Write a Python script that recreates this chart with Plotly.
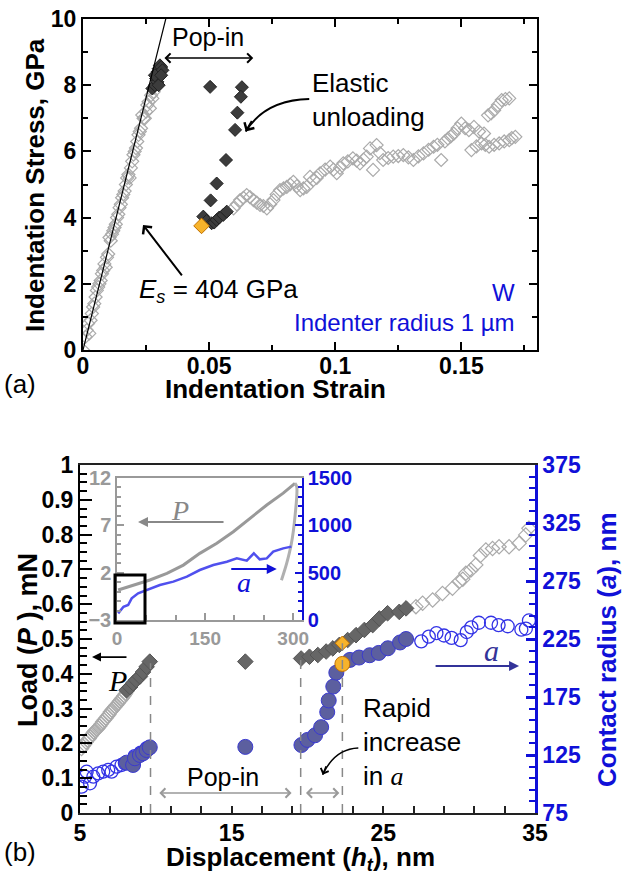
import plotly.graph_objects as go

# ---------------- Panel (a) data ----------------
a_load_strain = [0.000, 0.001, 0.0015, 0.002, 0.0025, 0.003, 0.0035, 0.004, 0.0045, 0.005, 0.0055,
                 0.006, 0.0065, 0.007, 0.0075, 0.008, 0.0085, 0.009, 0.0095, 0.010, 0.0105, 0.011,
                 0.0115, 0.012, 0.0125, 0.013, 0.0135, 0.014, 0.0145, 0.015, 0.0155, 0.016, 0.0165,
                 0.017, 0.0175, 0.018, 0.0185, 0.019, 0.0195, 0.020, 0.0205, 0.021, 0.0215, 0.022,
                 0.0225, 0.023, 0.0235, 0.024, 0.0245, 0.025, 0.0255, 0.026, 0.0265, 0.027, 0.0275, 0.028]
a_load_stress = [0.0, 0.4, 0.6, 0.8, 0.5, 0.9, 1.1, 1.3, 1.4, 1.6, 1.8,
                 1.9, 2.0, 2.1, 2.3, 2.4, 2.6, 2.5, 2.8, 2.9, 3.4, 3.3,
                 3.5, 3.6, 3.7, 3.8, 4.0, 4.1, 4.3, 4.4, 4.6, 4.7, 4.8,
                 5.0, 5.2, 5.3, 5.2, 5.5, 5.7, 5.9, 6.0, 6.1, 6.3, 6.5,
                 6.6, 6.7, 7.1, 7.0, 7.0, 7.2, 7.4, 7.5, 7.3, 7.7, 7.6, 7.8]

a_top_strain = [0.0275, 0.0285, 0.029, 0.0295, 0.030, 0.0305, 0.031, 0.0315, 0.0295, 0.0285, 0.0300, 0.0310]
a_top_stress = [7.9, 8.0, 8.2, 8.4, 8.5, 8.6, 8.55, 8.45, 8.1, 8.3, 8.0, 8.3]

a_unload_strain = [0.0504, 0.0630, 0.0626, 0.0612, 0.0603, 0.0567, 0.0530, 0.0506,
                   0.0477, 0.0490, 0.0510, 0.0520, 0.0530, 0.0540, 0.0556, 0.0570]
a_unload_stress = [7.95, 7.94, 7.65, 7.17, 6.65, 5.74, 5.03, 4.52,
                   4.03, 3.90, 3.83, 3.85, 3.93, 4.00, 4.08, 4.18]

a_orange_strain = [0.047]
a_orange_stress = [3.75]

a_plastic_strain = [0.0597, 0.0623, 0.0649, 0.0676, 0.0702, 0.0729, 0.0755, 0.0781, 0.0808,
                    0.0834, 0.0861, 0.0887, 0.0900, 0.0914, 0.0940, 0.0980, 0.1006, 0.1032,
                    0.1070, 0.1098, 0.1125, 0.1138, 0.1150, 0.1164, 0.1190, 0.1230, 0.1270,
                    0.1310, 0.1350, 0.1390, 0.1420, 0.1447, 0.1470, 0.1500, 0.1530, 0.1550,
                    0.1590, 0.1606, 0.1630, 0.1660, 0.1690,
                    0.1540, 0.1580, 0.1610, 0.1650, 0.1690, 0.1714,
                    0.0610, 0.0636, 0.0662, 0.0689, 0.0715, 0.0742, 0.0768, 0.0795, 0.0821,
                    0.0848, 0.0874, 0.0927, 0.0960, 0.0993, 0.1019, 0.1050, 0.1085, 0.1112,
                    0.1177, 0.1210, 0.1250, 0.1290, 0.1330, 0.1370, 0.1405, 0.1435, 0.1458,
                    0.1485, 0.1515, 0.1570, 0.1618, 0.1645, 0.1675, 0.1560, 0.1595, 0.1630,
                    0.1670, 0.1700]
a_plastic_stress = [4.28, 4.53, 4.68, 4.53, 4.38, 4.28, 4.53, 4.83, 4.93,
                    5.08, 4.83, 4.93, 5.23, 5.14, 5.34, 5.54, 5.34, 5.64,
                    5.79, 5.64, 5.84, 6.09, 5.44, 6.19, 5.74, 5.84, 5.89,
                    5.74, 5.94, 6.14, 5.74, 6.39, 6.54, 6.84, 6.64, 6.74,
                    6.54, 7.09, 7.24, 7.55, 7.60,
                    6.04, 6.24, 6.14, 6.24, 6.34, 6.44,
                    4.40, 4.60, 4.62, 4.45, 4.35, 4.40, 4.70, 4.88, 5.00,
                    4.95, 4.88, 5.20, 5.45, 5.45, 5.50, 5.70, 5.72, 5.75,
                    5.95, 5.80, 5.86, 5.82, 5.85, 6.05, 6.20, 6.30, 6.45,
                    6.70, 6.70, 6.60, 7.15, 7.40, 7.58, 6.15, 6.20, 6.20,
                    6.30, 6.40]

# fitted elastic line endpoints (strain, stress)
a_fit_strain = [0.0, 0.0337]
a_fit_stress = [0.0, 10.27]

# ---------------- Panel (b) data ----------------
b_Pload_h = [5.1, 5.2, 5.3, 5.4, 5.5, 5.6, 5.7, 5.8, 5.9, 6.0, 6.1, 6.2, 6.3, 6.4, 6.5, 6.6, 6.7, 6.8,
             6.9, 7.0, 7.1, 7.2, 7.3, 7.4, 7.5, 7.6, 7.7, 7.8, 7.9, 8.0, 8.1]
b_Pload_P = [0.185, 0.192, 0.197, 0.204, 0.210, 0.214, 0.220, 0.226, 0.232, 0.236, 0.240, 0.245,
             0.250, 0.256, 0.262, 0.267, 0.272, 0.278, 0.283, 0.290, 0.295, 0.300, 0.305, 0.310,
             0.315, 0.321, 0.326, 0.331, 0.337, 0.343, 0.350]

b_Pdark_h = [8.07, 8.3, 8.5, 8.7, 8.95, 9.15, 9.39, 9.6, 15.9,
             19.58, 20.13, 20.68, 21.23, 21.67, 22.10, 22.65, 23.20, 23.75, 24.30,
             24.74, 25.28, 26.05, 26.50]
b_Pdark_P = [0.353, 0.362, 0.373, 0.382, 0.392, 0.405, 0.420, 0.435, 0.435,
             0.444, 0.449, 0.454, 0.464, 0.473, 0.483, 0.497, 0.511, 0.526, 0.540,
             0.559, 0.574, 0.578, 0.588]

b_Pafter_h = [27.15, 27.59, 28.25, 28.90, 29.56, 30.00, 30.24, 30.44, 30.77, 31.10,
              31.40, 31.76, 32.20, 32.63, 33.29, 33.95, 34.39, 34.60]
b_Pafter_P = [0.593, 0.603, 0.612, 0.631, 0.646, 0.665, 0.672, 0.689, 0.698, 0.713,
              0.740, 0.756, 0.760, 0.765, 0.765, 0.775, 0.799, 0.818]

b_Porange_h = [22.3]
b_Porange_P = [0.488]

b_aopen1_h = [5.11, 5.33, 5.44, 5.66, 5.88, 6.20, 6.53, 6.86, 7.08, 7.41, 7.74, 7.96, 8.6, 9.0, 9.4]
b_aopen1_a = [97.7, 106.3, 110.6, 100.6, 106.3, 109.2, 110.6, 112.1, 110.6, 114.9, 116.4, 117.8,
              124.0, 127.0, 131.0]

b_afill_h = [8.07, 8.50, 8.62, 8.95, 9.16, 9.39, 9.60, 15.9,
             19.60, 20.00, 20.50, 20.90, 21.30, 21.40, 21.70, 21.90,
             22.80, 23.40, 24.10, 24.70, 25.30, 26.10, 26.50]
b_afill_a = [118.4, 116.4, 122.2, 125.0, 126.5, 129.3, 131.6, 132.0,
             133.6, 138.0, 142.0, 149.0, 162.0, 172.0, 184.0, 196.0,
             207.0, 209.0, 211.0, 213.0, 217.0, 222.0, 225.0]

b_aopen2_h = [27.5, 28.0, 28.5, 29.0, 29.5, 30.1, 30.5, 30.8, 31.3, 32.1, 32.6, 33.2, 34.1, 34.4, 34.6]
b_aopen2_a = [223, 227, 230, 228, 226, 224, 231, 235, 239, 239, 237, 236, 233, 234, 241]

b_aorange_h = [22.3]
b_aorange_a = [203.5]

b_dash_h = [9.65, 19.55, 22.3]
b_dash_top = [0.43, 0.445, 0.488]

# ---------------- Inset data ----------------
ins_P_h = [2, 28, 56, 85, 113, 141, 170, 198, 226, 255, 283, 303]
ins_P_P = [0.17, 0.7, 1.23, 1.93, 2.8, 4.04, 5.1, 6.33, 7.74, 9.15, 10.4, 11.44]
ins_Pu_h = [303, 306, 303, 297, 289, 280]
ins_Pu_P = [11.44, 11.1, 7.9, 5.1, 3.0, 1.2]
ins_a_h = [2, 11, 19, 25, 36, 51, 73, 96, 119, 141, 164, 187, 204, 221, 233, 243, 255, 266, 283, 297]
ins_a_a = [70, 140, 158, 229, 282, 317, 370, 405, 458, 528, 581, 616, 651, 627, 704, 641, 651, 722, 757, 775]

FONT = "Liberation Sans, Arial, sans-serif"
SERIF = "Liberation Serif, Times New Roman, serif"
BLUE = "#1010d8"
NAVY = "#333399"
GREY = "#999999"

fig = go.Figure()

# Panel a traces
fig.add_trace(go.Scatter(x=a_load_strain, y=a_load_stress, mode="markers",
                         marker=dict(symbol="diamond-open", size=10, color="#aaaaaa", line=dict(width=1.2)),
                         xaxis="x", yaxis="y"))
fig.add_trace(go.Scatter(x=a_plastic_strain, y=a_plastic_stress, mode="markers",
                         marker=dict(symbol="diamond-open", size=10, color="#aaaaaa", line=dict(width=1.2)),
                         xaxis="x", yaxis="y"))
fig.add_trace(go.Scatter(x=a_top_strain, y=a_top_stress, mode="markers",
                         marker=dict(symbol="diamond", size=10, color="#3c3c3c", line=dict(color="#222", width=1)),
                         xaxis="x", yaxis="y"))
fig.add_trace(go.Scatter(x=a_unload_strain, y=a_unload_stress, mode="markers",
                         marker=dict(symbol="diamond", size=10, color="#3c3c3c", line=dict(color="#222", width=1)),
                         xaxis="x", yaxis="y"))
fig.add_trace(go.Scatter(x=a_orange_strain, y=a_orange_stress, mode="markers",
                         marker=dict(symbol="diamond", size=12, color="#f7b32b", line=dict(color="#c07000", width=1)),
                         xaxis="x", yaxis="y"))
fig.add_trace(go.Scatter(x=a_fit_strain, y=a_fit_stress, mode="lines",
                         line=dict(color="black", width=1.2), xaxis="x", yaxis="y", cliponaxis=False))

# Panel b traces
fig.add_trace(go.Scatter(x=b_Pload_h, y=b_Pload_P, mode="markers",
                         marker=dict(symbol="diamond-open", size=11, color="#aaaaaa", line=dict(width=1.2)),
                         xaxis="x2", yaxis="y2"))
fig.add_trace(go.Scatter(x=b_Pafter_h, y=b_Pafter_P, mode="markers",
                         marker=dict(symbol="diamond-open", size=11, color="#aaaaaa", line=dict(width=1.2)),
                         xaxis="x2", yaxis="y2"))
fig.add_trace(go.Scatter(x=b_Pdark_h, y=b_Pdark_P, mode="markers",
                         marker=dict(symbol="diamond", size=12, color="#666666", line=dict(color="#555", width=1)),
                         xaxis="x2", yaxis="y2"))
fig.add_trace(go.Scatter(x=b_Porange_h, y=b_Porange_P, mode="markers",
                         marker=dict(symbol="diamond", size=11, color="#f7b32b", line=dict(color="#c07000", width=1)),
                         xaxis="x2", yaxis="y2"))
fig.add_trace(go.Scatter(x=b_aopen1_h, y=b_aopen1_a, mode="markers",
                         marker=dict(symbol="circle-open", size=13, color="#3333e6", line=dict(width=1.3)),
                         xaxis="x2", yaxis="y3"))
fig.add_trace(go.Scatter(x=b_aopen2_h, y=b_aopen2_a, mode="markers",
                         marker=dict(symbol="circle-open", size=13, color="#3333e6", line=dict(width=1.3)),
                         xaxis="x2", yaxis="y3"))
fig.add_trace(go.Scatter(x=b_afill_h, y=b_afill_a, mode="markers",
                         marker=dict(symbol="circle", size=15, color="#5c5f9f", line=dict(color="#3a3ad0", width=1)),
                         xaxis="x2", yaxis="y3"))
fig.add_trace(go.Scatter(x=b_aorange_h, y=b_aorange_a, mode="markers",
                         marker=dict(symbol="circle", size=15, color="#f7b32b", line=dict(color="#c07000", width=1)),
                         xaxis="x2", yaxis="y3"))

# Inset traces
fig.add_trace(go.Scatter(x=ins_P_h, y=ins_P_P, mode="lines", line=dict(color="#999999", width=3),
                         xaxis="x3", yaxis="y4"))
fig.add_trace(go.Scatter(x=ins_Pu_h, y=ins_Pu_P, mode="lines", line=dict(color="#b0b0b0", width=3, shape="spline"),
                         xaxis="x3", yaxis="y4"))
fig.add_trace(go.Scatter(x=ins_a_h, y=ins_a_a, mode="lines", line=dict(color="#5050ee", width=2.5),
                         xaxis="x3", yaxis="y5"))

tickA = dict(family=FONT, size=23, color="black", weight="bold")

def axstyle(color, ticklen, width=2):
    return dict(showline=True, linecolor=color, linewidth=width, ticks="inside", ticklen=ticklen,
                tickwidth=width, tickcolor=color, showgrid=False, zeroline=False, automargin=False)

shapes = []
for h, top in zip(b_dash_h, b_dash_top):
    shapes.append(dict(type="line", xref="x2", yref="y2", x0=h, x1=h, y0=0, y1=top,
                       line=dict(color="#888888", width=1.5, dash="dash")))
# inset zoom box (paper coords so it is not clipped)
shapes.append(dict(type="rect", xref="paper", yref="paper", x0=115/625, x1=145/625,
                   y0=1-623/875, y1=1-575/875, line=dict(color="black", width=3)))
# curved arrow: elastic unloading
shapes.append(dict(type="path", xref="x", yref="y",
                   path="M 0.0897 7.58 Q 0.0722 7.55 0.0645 6.6", line=dict(color="black", width=2)))
# curved arrow: rapid increase
shapes.append(dict(type="path", xref="x2", yref="y2",
                   path="M 23.35 0.187 Q 21.8 0.185 21.0 0.11", line=dict(color="black", width=1.5)))

ann = []
def text(x, y, t, xref="paper", yref="paper", size=26, color="black", xanchor="center",
         yanchor="middle", angle=0, family=FONT, align="center"):
    ann.append(dict(x=x, y=y, xref=xref, yref=yref, text=t, showarrow=False, xanchor=xanchor,
                    yanchor=yanchor, textangle=angle, align=align,
                    font=dict(family=family, size=size, color=color)))

def arrow(x, y, ax, ay, xref, yref, color="black", head=2, width=1.5, size=1.0, side="end",
          axref="pixel", ayref="pixel"):
    ann.append(dict(x=x, y=y, xref=xref, yref=yref, ax=ax, ay=ay, axref=axref, ayref=ayref,
                    text="", showarrow=True, arrowhead=head, arrowcolor=color, arrowwidth=width,
                    arrowsize=size, arrowside=side, startarrowhead=head, startarrowsize=size))

# axis titles
text(35/625, 1-185/875, "<b>Indentation Stress, GPa</b>", angle=-90, size=26)
text(275/625, 1-389/875, "<b>Indentation Strain</b>", size=26)
text(28/625, 1-640/875, "<b>Load (<i>P</i> ), mN</b>", angle=-90, size=27)
text(607/625, 1-650/875, "<b>Contact radius (<i>a</i>), nm</b>", angle=-90, size=26, color=BLUE)
text(300/625, 1-858/875, "<b>Displacement (<i>h<sub>t</sub></i>), nm</b>", size=26)
text(20/625, 1-384/875, "(a)", size=26)
text(20/625, 1-852/875, "(b)", size=26)

# panel a annotations
text(0.0496, 9.46, "Pop-in", xref="x", yref="y", size=25)
arrow(0.0675, 8.82, 0.0317, 8.82, "x", "y", head=4, width=1.5, size=1.2, side="end+start",
      axref="x", ayref="y")
text(0.0900, 7.55, "Elastic<br>unloading", xref="x", yref="y", size=26, xanchor="left", align="left")
arrow(0.0645, 6.6, 7, -12, "x", "y", head=4, width=2, size=1.1)
arrow(0.0238, 3.78, 40, 52, "x", "y", head=4, width=2, size=1.1)
text(0.0214, 1.81, "<i>E<sub>s</sub></i> = 404 GPa", xref="x", yref="y", size=26, xanchor="left")
text(517/625, 1-292/875, "W", size=24, color=BLUE, xanchor="right")
text(517/625, 1-322/875, "Indenter radius 1 µm", size=24, color=BLUE, xanchor="right")

# panel b annotations
arrow(5.79, 0.448, 36, 0, "x2", "y2", head=2, width=1.8, size=1.0)
text(7.5, 0.382, "<i>P</i>", xref="x2", yref="y2", size=30, family=SERIF)
arrow(33.95, 201.7, -85, 0, "x2", "y3", color=NAVY, head=2, width=2, size=1.0)
text(32.1, 215.5, "<i>a</i>", xref="x2", yref="y3", size=30, family=SERIF, color=NAVY)
text(14.4, 0.103, "Pop-in", xref="x2", yref="y2", size=25)
arrow(18.95, 0.0575, 10.13, 0.0575, "x2", "y2", color="#999999", head=4, width=1.5, size=1.2,
      side="end+start", axref="x2", ayref="y2")
arrow(22.1, 0.0575, 19.8, 0.0575, "x2", "y2", color="#999999", head=4, width=1.5, size=1.2,
      side="end+start", axref="x2", ayref="y2")
text(23.55, 0.204, "Rapid<br>increase<br>in <span style='font-family:Liberation Serif'><i>a</i></span>",
     xref="x2", yref="y2", size=26, xanchor="left", align="left")
arrow(21.0, 0.11, 4, -10, "x2", "y2", head=4, width=1.5, size=1.1)

# inset annotations
arrow(35.8, 7.35, 87, 0, "x3", "y4", color="#888888", head=2, width=2, size=1.0)
text(107, 8.6, "<i>P</i>", xref="x3", yref="y4", size=28, family=SERIF, color="#888888")
arrow(272, 539, -47, 0, "x3", "y5", color=BLUE, head=2, width=2, size=1.0)
text(216, 391, "<i>a</i>", xref="x3", yref="y5", size=28, family=SERIF, color=BLUE)

xa = axstyle("black", 8)
xa.update(domain=[83/625, 537/625], anchor="y", range=[0, 0.18], tick0=0, dtick=0.05,
          mirror="ticks", tickfont=tickA, ticklabelstandoff=-6,
          minor=dict(ticks="inside", dtick=0.025, ticklen=5, tickwidth=2, tickcolor="black"))
ya = axstyle("black", 8)
ya.update(domain=[1-350/875, 1-19/875], anchor="x", range=[0, 10], tick0=0, dtick=2,
          mirror="ticks", tickfont=tickA, minor=dict(ticks="inside", dtick=1, ticklen=5,
                                                     tickwidth=2, tickcolor="black"))

xb = axstyle("#222222", 7)
xb.update(domain=[80/625, 535/625], anchor="y2", range=[5, 35], tick0=5, dtick=10, mirror=True,
          tickfont=tickA, ticklabelstandoff=-2,
          minor=dict(ticks="inside", tick0=5, dtick=2, ticklen=7, tickwidth=2, tickcolor="#222222"))
yb = axstyle("black", 12)
yb.update(domain=[1-813/875, 1-465/875], anchor="x2", range=[0, 1], tick0=0, dtick=0.1,
          tickfont=tickA, minor=dict(ticks="inside", dtick=0.025, ticklen=7, tickwidth=2,
                                     tickcolor="black"))
yb3 = axstyle(BLUE, 9, width=2.5)
yb3.update(overlaying="y2", anchor="x2", side="right", range=[75, 375], tick0=75, dtick=50,
           tickfont=dict(family=FONT, size=23, color=BLUE, weight="bold"),
           minor=dict(ticks="inside", tick0=75, dtick=10, ticklen=6, tickwidth=2, tickcolor=BLUE))

xi = axstyle(GREY, 7, width=1.5)
xi.update(domain=[117/625, 302/625], anchor="y4", range=[0, 315], tickvals=[0, 150, 300],
          mirror=True, tickfont=dict(family=FONT, size=19, color=GREY, weight="bold"),
          minor=dict(ticks="inside", tick0=0, dtick=50, ticklen=5, tickwidth=1.5, tickcolor=GREY))
yi = axstyle(GREY, 7, width=1.5)
yi.update(domain=[1-620/875, 1-478/875], anchor="x3", range=[-3, 12], tick0=-3, dtick=5,
          tickfont=dict(family=FONT, size=20, color=GREY, weight="bold"),
          minor=dict(ticks="inside", tick0=-3, dtick=1, ticklen=4, tickwidth=1.5, tickcolor=GREY))
yi5 = axstyle(BLUE, 7, width=1.5)
yi5.update(overlaying="y4", anchor="x3", side="right", range=[0, 1500], tick0=0, dtick=500,
           tickfont=dict(family=FONT, size=20, color=BLUE, weight="bold"),
           minor=dict(ticks="inside", tick0=0, dtick=100, ticklen=4, tickwidth=1.5, tickcolor=BLUE))

fig.update_layout(
    template="none",
    width=625, height=875, margin=dict(l=0, r=0, t=0, b=0, pad=0),
    paper_bgcolor="white", plot_bgcolor="rgba(0,0,0,0)", showlegend=False,
    font=dict(family=FONT),
    xaxis=xa, yaxis=ya, xaxis2=xb, yaxis2=yb, yaxis3=yb3,
    xaxis3=xi, yaxis4=yi, yaxis5=yi5,
    shapes=shapes, annotations=ann,
)

fig.write_html("out.html", config={"displayModeBar": False},
               post_script="document.body.style.margin='0px';")
